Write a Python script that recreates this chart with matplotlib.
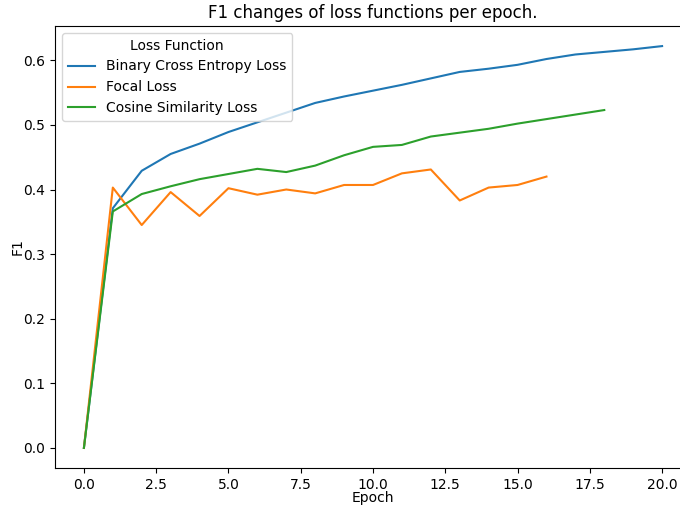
import matplotlib
matplotlib.use("Agg")
import matplotlib.pyplot as plt

# F1 per epoch for each loss function
bce_f1 = [0.0, 0.371, 0.429, 0.455, 0.471, 0.489, 0.504, 0.519, 0.534, 0.544,
          0.553, 0.562, 0.572, 0.582, 0.587, 0.593, 0.602, 0.609, 0.613, 0.617, 0.622]
focal_f1 = [0.0, 0.403, 0.345, 0.396, 0.359, 0.402, 0.392, 0.400, 0.394, 0.407,
            0.407, 0.425, 0.431, 0.383, 0.403, 0.407, 0.420]
cosine_f1 = [0.0, 0.366, 0.393, 0.405, 0.416, 0.424, 0.432, 0.427, 0.437, 0.453,
             0.466, 0.469, 0.482, 0.488, 0.494, 0.502, 0.509, 0.516, 0.523]

series = {
    "Binary Cross Entropy Loss": bce_f1,
    "Focal Loss": focal_f1,
    "Cosine Similarity Loss": cosine_f1,
}

fig = plt.figure(figsize=(6.8, 5.05), dpi=100)
# axes run slightly past the right edge of the canvas
ax = fig.add_axes([55 / 680, 37 / 505, 636 / 680, 442 / 505])
for name, vals in series.items():
    ax.plot(range(len(vals)), vals, label=name)

ax.set_title("F1 changes of loss functions per epoch.")
ax.set_xlabel("Epoch", labelpad=-0.3)
ax.set_ylabel("F1", labelpad=-1)
ax.legend(title="Loss Function", loc="upper left")

fig.savefig("out.png")
